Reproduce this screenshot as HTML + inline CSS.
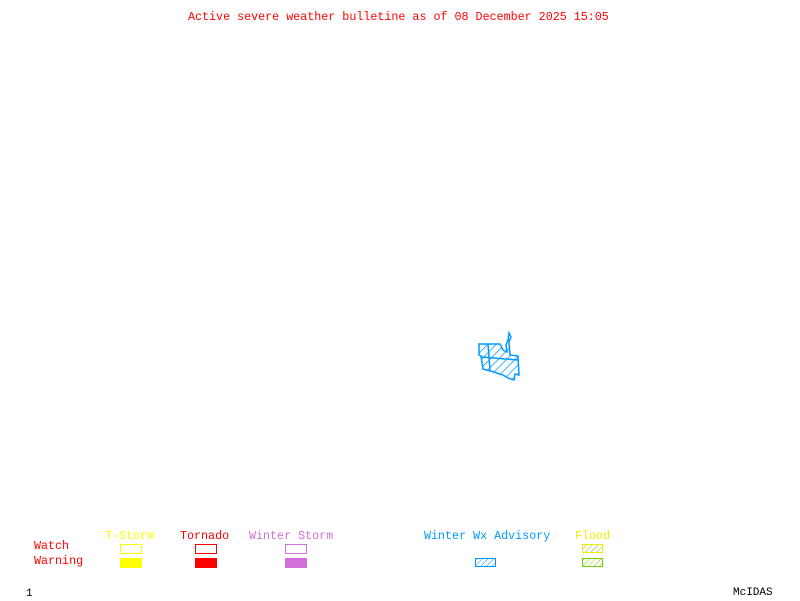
<!DOCTYPE html>
<html><head><style>
body{margin:0;background:#fff;width:800px;height:600px;overflow:hidden;position:relative;font-family:"Liberation Mono",monospace;font-size:11.7px}
.t{position:absolute;white-space:pre;line-height:13px}
.b{position:absolute;box-sizing:border-box;width:22px;height:10px}
</style></head><body>
<div class="t" style="left:188px;top:11px;color:#f00">Active severe weather bulletine as of 08 December 2025 15:05</div>
<svg style="position:absolute;left:0;top:0" width="800" height="600">
<defs><pattern id="h" width="6" height="6" patternUnits="userSpaceOnUse" patternTransform="rotate(45)"><line x1="0" y1="0" x2="0" y2="6" stroke="#09f" stroke-width="1.5"/></pattern>
<pattern id="h2" width="4" height="4" patternUnits="userSpaceOnUse" patternTransform="rotate(45)"><line x1="0" y1="0" x2="0" y2="4" stroke="#09f" stroke-width="1"/></pattern>
<pattern id="h3" width="4" height="4" patternUnits="userSpaceOnUse" patternTransform="rotate(45)"><line x1="0" y1="0" x2="0" y2="4" stroke="#7c0" stroke-width="1"/></pattern></defs>
<polygon points="479,344 500,344 503,350 507,352 506,345 508,340 509,333 511,337 509,342 510,355 518,356 519,375 515,374 514,380 508,378 503,375 494,372 483,369 481,356 479,355" fill="url(#h)" stroke="#09f" stroke-width="1.5"/>
<line x1="488" y1="344" x2="490" y2="370" stroke="#09f" stroke-width="1.5"/>
<line x1="481" y1="357" x2="518" y2="360" stroke="#09f" stroke-width="1.5"/>
<rect x="475.5" y="558.5" width="20" height="8" fill="url(#h2)" stroke="#09f"/>
<rect x="582.5" y="544.5" width="20" height="8" fill="url(#h3)" stroke="#ee0"/>
<rect x="582.5" y="558.5" width="20" height="8" fill="url(#h3)" stroke="#7c0"/>
</svg>
<div class="t" style="left:105px;top:530px;color:#ff0">T-Storm</div>
<div class="t" style="left:180px;top:530px;color:#f00">Tornado</div>
<div class="t" style="left:249px;top:530px;color:#d070d8">Winter Storm</div>
<div class="t" style="left:424px;top:530px;color:#09f">Winter Wx Advisory</div>
<div class="t" style="left:575px;top:530px;color:#ee0">Flood</div>
<div class="t" style="left:34px;top:540px;color:#f00">Watch</div>
<div class="t" style="left:34px;top:555px;color:#f00">Warning</div>
<div class="b" style="left:120px;top:544px;border:1px solid #ff0"></div>
<div class="b" style="left:120px;top:558px;background:#ff0"></div>
<div class="b" style="left:195px;top:544px;border:1px solid #f00"></div>
<div class="b" style="left:195px;top:558px;background:#f00"></div>
<div class="b" style="left:285px;top:544px;border:1px solid #d070d8"></div>
<div class="b" style="left:285px;top:558px;background:#d070d8"></div>
<div class="t" style="left:26px;top:588px;color:#000;font-size:11px">1</div>
<div class="t" style="left:733px;top:587px;color:#000;font-size:11px">McIDAS</div>
</body></html>
